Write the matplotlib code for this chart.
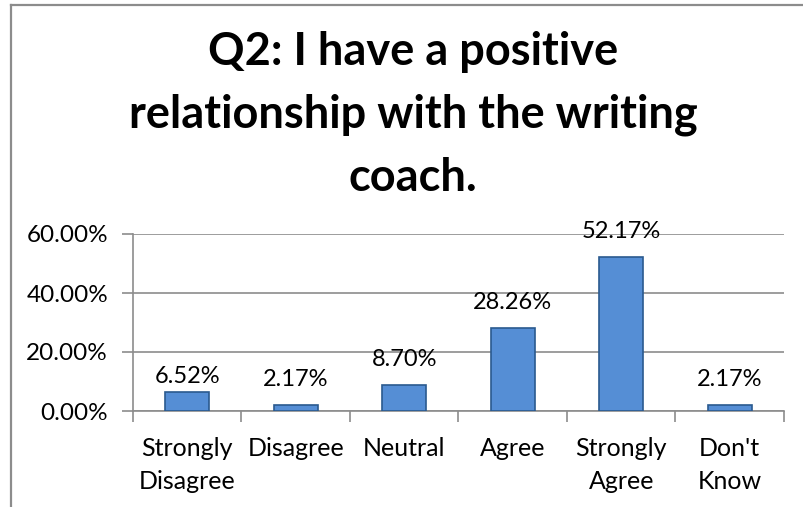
import matplotlib
matplotlib.use("Agg")
import matplotlib.pyplot as plt
from matplotlib.lines import Line2D
from matplotlib.ticker import FixedLocator, PercentFormatter

categories = ["Strongly\nDisagree", "Disagree", "Neutral", "Agree", "Strongly\nAgree", "Don't\nKnow"]
values = [0.0652, 0.0217, 0.0870, 0.2826, 0.5217, 0.0217]
value_labels = ["6.52%", "2.17%", "8.70%", "28.26%", "52.17%", "2.17%"]
yticks = [0.0, 0.2, 0.4, 0.6]
title = "Q2: I have a positive\nrelationship with the writing\ncoach."

FONT = "Lato"
W, H = 804, 507
fig = plt.figure(figsize=(W / 100, H / 100), dpi=100)
fig.patch.set_facecolor("white")

ax = fig.add_axes([133 / W, 1 - 411 / H, (784 - 133) / W, (411 - 234) / H])
x = list(range(len(categories)))
ax.bar(x, values, width=0.41, color="#558ed5", edgecolor="#2a5a8f", linewidth=1.2, zorder=3)
ax.set_xlim(-0.5, len(categories) - 0.5)
ax.set_ylim(0, 0.6)

ax.set_yticks(yticks)
ax.yaxis.set_major_formatter(PercentFormatter(1.0, decimals=2))
ax.grid(axis="y", color="#8c8c8c", linewidth=1.2, zorder=0)
ax.set_xticks(x)
ax.set_xticklabels(categories, fontfamily=FONT, fontsize=18, linespacing=1.5)
ax.xaxis.set_minor_locator(FixedLocator([i - 0.5 for i in range(len(categories) + 1)]))
ax.tick_params(axis="x", which="major", length=0, pad=19)
ax.tick_params(axis="x", which="minor", length=8, width=1.2, color="#8c8c8c", direction="out")
ax.tick_params(axis="y", length=8, width=1.2, color="#8c8c8c", direction="out", pad=10)
for lbl in ax.get_yticklabels():
    lbl.set_fontfamily(FONT)
    lbl.set_fontsize(17.5)

for s in ["top", "right"]:
    ax.spines[s].set_visible(False)
for s in ["left", "bottom"]:
    ax.spines[s].set_color("#8c8c8c")
    ax.spines[s].set_linewidth(1.2)

for i, (v, t) in enumerate(zip(values, value_labels)):
    off = 9 if i == 0 else 19
    ax.annotate(t, (i, v), xytext=(0, off * 0.72), textcoords="offset points",
                ha="center", va="baseline", fontfamily=FONT, fontsize=17, zorder=4)

fig.text(413 / W, 1 - 115 / H, title, ha="center", va="center", fontfamily=FONT,
         fontweight="bold", fontsize=32.5, linespacing=1.62)

fig.add_artist(Line2D([11 / W, 11 / W], [0, 1 - 5 / H], color="#8c8c8c", linewidth=1.6,
                      transform=fig.transFigure))
fig.add_artist(Line2D([11 / W, 1], [1 - 5 / H, 1 - 5 / H], color="#8c8c8c", linewidth=1.6,
                      transform=fig.transFigure))

fig.savefig("out.png", dpi=100)
